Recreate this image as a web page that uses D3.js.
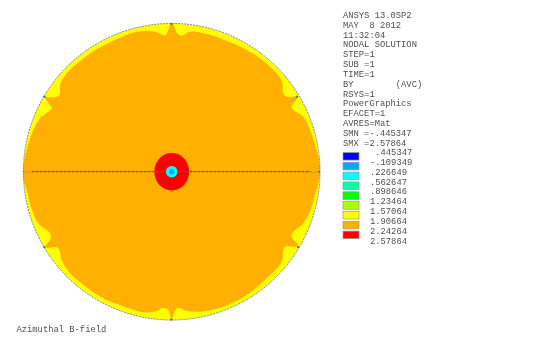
<!DOCTYPE html>
<html>
<head>
<meta charset="utf-8">
<script src="https://cdnjs.cloudflare.com/ajax/libs/d3/7.8.5/d3.min.js"></script>
<style>
html,body{margin:0;padding:0;background:#fff}
svg{display:block}
text{font-family:"Liberation Mono",monospace;font-size:8.8px;fill:#505050;white-space:pre;filter:blur(0.35px)}
</style>
</head>
<body>
<svg id="c" width="540" height="344"></svg>
<script>
// Nodal solution, model coordinates (domain radius = 148.3)
const domainRadius = 148.3;
const contourLevels = [-0.445347,-0.109349,0.226649,0.562647,0.898646,1.23464,1.57064,1.90664,2.24264,2.57864];
const levelLabels = [" .445347","-.109349",".226649",".562647",".898646","1.23464","1.57064","1.90664","2.24264","2.57864"];
const bandColors = ["#0000ff","#00aaff","#00ffff","#00ffaa","#00ff00","#aaff00","#ffff00","#ffb000","#ff0000"];
const infoLines = ["ANSYS 13.0SP2","MAY  8 2012","11:32:04","NODAL SOLUTION","STEP=1","SUB =1","TIME=1","BY        (AVC)","RSYS=1","PowerGraphics","EFACET=1","AVRES=Mat","SMN =-.445347","SMX =2.57864"];
const plotTitle = "Azimuthal B-field";

// boundary of the 1.90664 contour
const orangeContour = [
[-145,21.7],[-139.7,38.4],[-131.7,53.4],[-123.4,60],[-120,63.4],[-121.7,66.7],[-126.7,74.7],[-123.4,74.4],[-115,75],[-111.7,77.7],[-111.7,86.7],[-105,98.4],[-90.3,111.7],[-73.9,123.1],[-54.2,133],[-35,140],[-16.7,140],[-8.4,136.7],[-5.7,136.7],[-1,147.7],
[1,147.7],[5.6,138.4],[10,136],[18.3,140],[35,137.7],[58.3,129.4],[81.3,118],[98.3,105],[110,91],[111.6,78.4],[115,75],[126,75],[120,65],[121.6,61.7],[131.6,55],[138.3,41.7],[145,21.7],[148.3,5],[148.3,0],
[148.3,-2.3],[144,-21.6],[136.6,-43.3],[130,-53.3],[121.6,-60],[120,-65],[126.6,-74.3],[113.3,-75],[111.6,-78.3],[110,-90],[95,-106.6],[75,-123.3],[51.6,-135],[28.3,-140],[15,-139],[6.6,-136],[3.3,-138.3],[0,-147.3],
[-3.4,-138.3],[-8.4,-136],[-16.7,-140],[-31.7,-140],[-51,-133.6],[-71,-125.2],[-87.5,-113.8],[-101.7,-101.6],[-110,-88.3],[-112.4,-78.3],[-115,-75.6],[-126,-75.6],[-121,-66.6],[-121.7,-61.6],[-133.4,-51.6],[-140.7,-35],[-145.5,-16.6],[-148.4,-6.3],[-148.3,0],[-148.3,5]
];
// conductor regions: [x radius, y radius, field value]
const coreRegions = [[17.4,18.8,2.4],[5.8,5.8,0.4],[2.6,2.6,0.05]];
// slot notches, low-field nodes at the rim
const notchNodes = [[-127.3,75],[-0.3,147.7],[125.4,75],[-0.3,-147.7],[-127.3,-75.4],[126.4,-75.4]];
// low-field stretches along the mid-plane line
const lineSlivers = [[-147.5,-140],[139,146.5]];
// field values
const rimValue = 1.75, bulkValue = 2.05;

const svg = d3.select("#c");
const x = d3.scaleLinear().domain([-domainRadius,domainRadius]).range([23.4,320]);
const y = d3.scaleLinear().domain([-domainRadius,domainRadius]).range([320,23.4]);
const color = d3.scaleThreshold().domain(contourLevels.slice(1,-1)).range(bandColors);
const len = d => x(d)-x(0);

svg.append("circle").attr("cx",x(0)).attr("cy",y(0)).attr("r",len(domainRadius))
  .attr("fill",color(rimValue));
svg.append("path").datum(orangeContour)
  .attr("d",d3.line().x(d=>x(d[0])).y(d=>y(d[1])).curve(d3.curveCatmullRomClosed.alpha(0.5)))
  .attr("fill",color(bulkValue));
svg.append("circle").attr("cx",x(0)).attr("cy",y(0)).attr("r",len(domainRadius))
  .attr("fill","none").attr("stroke","#858585").attr("stroke-width",1).attr("stroke-dasharray","2 1");

svg.selectAll("ellipse.core").data(coreRegions).join("ellipse").attr("class","core")
  .attr("cx",x(0)).attr("cy",y(0)).attr("rx",d=>len(d[0])).attr("ry",d=>len(d[1]))
  .attr("fill",d=>color(d[2]));

svg.append("line").attr("x1",x(-domainRadius)).attr("x2",x(-5.8)).attr("y1",y(0)).attr("y2",y(0))
  .attr("stroke","#7a5a20").attr("stroke-width",1.2).attr("stroke-dasharray","3 1");
svg.append("line").attr("x1",x(5.8)).attr("x2",x(domainRadius)).attr("y1",y(0)).attr("y2",y(0))
  .attr("stroke","#7a5a20").attr("stroke-width",1.2).attr("stroke-dasharray","3 1");
svg.selectAll("line.sliver").data(lineSlivers).join("line").attr("class","sliver")
  .attr("x1",d=>x(d[0])).attr("x2",d=>x(d[1])).attr("y1",y(0)).attr("y2",y(0))
  .attr("stroke","#b8c840").attr("stroke-width",1.2);
svg.selectAll("circle.notch").data(notchNodes).join("circle").attr("class","notch")
  .attr("cx",d=>x(d[0])).attr("cy",d=>y(d[1])).attr("r",1.2)
  .attr("fill","#2f9a6a");

// info block
const lineY = d3.scaleLinear().domain([0,13]).range([15,143]);
svg.selectAll("text.info").data(infoLines).join("text").attr("class","info")
  .attr("x",343).attr("y",(d,i)=>lineY(i)).attr("dy","0.32em").text(d=>d);

// legend
const legY = d3.scaleLinear().domain([0,9]).range([152.3,240.7]);
svg.selectAll("rect.leg").data(bandColors).join("rect").attr("class","leg")
  .attr("x",343).attr("y",(d,i)=>legY(i)+0.2).attr("width",16).attr("height",7.6)
  .attr("fill",d=>d).attr("stroke","#999").attr("stroke-width",0.7);
svg.selectAll("text.lab").data(levelLabels).join("text").attr("class","lab")
  .attr("x",370).attr("y",(d,i)=>legY(i)).attr("dy","0.32em").text(d=>d);

svg.append("text").attr("x",16.5).attr("y",329).attr("dy","0.32em").text(plotTitle);
</script>
</body>
</html>
